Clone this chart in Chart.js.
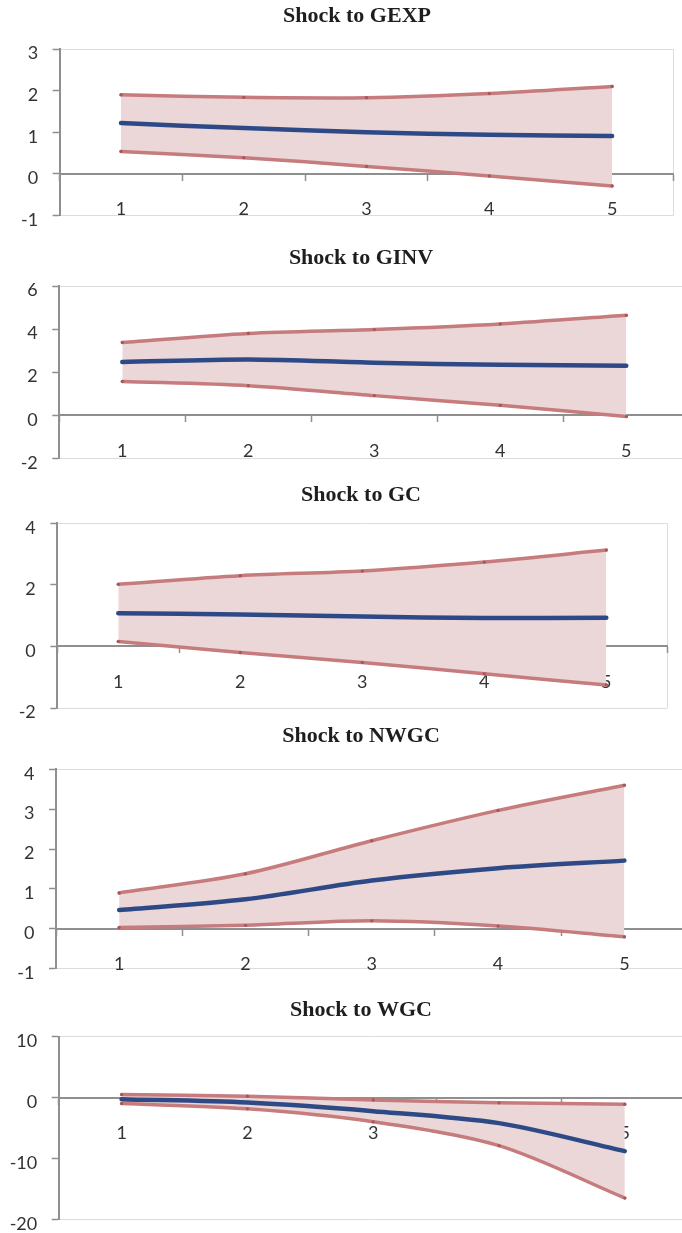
<!DOCTYPE html>
<html>
<head>
<meta charset="utf-8">
<script src="https://cdn.jsdelivr.net/npm/chart.js@4.4.0/dist/chart.umd.min.js"></script>
<style>
  html, body { margin: 0; padding: 0; background: #ffffff; }
  body { width: 682px; height: 1233px; position: relative; overflow: hidden; }
  canvas { position: absolute; left: 0; }
</style>
</head>
<body>
<script>
// Horizon (periods after the shock)
const categories = ['1', '2', '3', '4', '5'];

// Shock to GEXP
const gexpUpper = [1.90, 1.84, 1.83, 1.93, 2.10];
const gexpMid   = [1.22, 1.10, 1.00, 0.94, 0.91];
const gexpLower = [0.54, 0.39, 0.18, -0.05, -0.29];
const gexpTicks = [-1, 0, 1, 2, 3];

// Shock to GINV
const ginvUpper = [3.38, 3.80, 3.98, 4.24, 4.64];
const ginvMid   = [2.47, 2.59, 2.44, 2.34, 2.30];
const ginvLower = [1.57, 1.37, 0.91, 0.46, -0.06];
const ginvTicks = [-2, 0, 2, 4, 6];

// Shock to GC
const gcUpper = [2.02, 2.30, 2.45, 2.74, 3.13];
const gcMid   = [1.08, 1.04, 0.97, 0.92, 0.93];
const gcLower = [0.16, -0.20, -0.52, -0.89, -1.25];
const gcTicks = [-2, 0, 2, 4];

// Shock to NWGC
const nwgcUpper = [0.90, 1.38, 2.21, 2.97, 3.60];
const nwgcMid   = [0.47, 0.74, 1.21, 1.52, 1.71];
const nwgcLower = [0.03, 0.09, 0.20, 0.07, -0.20];
const nwgcTicks = [-1, 0, 1, 2, 3, 4];

// Shock to WGC
const wgcUpper = [0.50, 0.23, -0.38, -0.87, -1.08];
const wgcMid   = [-0.27, -0.82, -2.23, -4.20, -8.80];
const wgcLower = [-0.98, -1.85, -3.98, -7.90, -16.50];
const wgcTicks = [-20, -10, 0, 10];

// Page placement of each panel (title centre, plot-area edges)
const panels = [
  { title: 'Shock to GEXP', upper: gexpUpper, mid: gexpMid, lower: gexpLower, ticks: gexpTicks,
    frame: { titleX: 357, titleY: 16,    left: 59.6, right: 673.5, top: 49,     bottom: 215.5 } },
  { title: 'Shock to GINV', upper: ginvUpper, mid: ginvMid, lower: ginvLower, ticks: ginvTicks,
    frame: { titleX: 361, titleY: 258,   left: 59.3, right: 689.3, top: 286,    bottom: 458.3 } },
  { title: 'Shock to GC',   upper: gcUpper,   mid: gcMid,   lower: gcLower,   ticks: gcTicks,
    frame: { titleX: 361, titleY: 495.5, left: 57.3, right: 667.3, top: 523.3,  bottom: 708 } },
  { title: 'Shock to NWGC', upper: nwgcUpper, mid: nwgcMid, lower: nwgcLower, ticks: nwgcTicks,
    frame: { titleX: 361, titleY: 736.5, left: 56,   right: 687.5, top: 769.3,  bottom: 968.7 } },
  { title: 'Shock to WGC',  upper: wgcUpper,  mid: wgcMid,  lower: wgcLower,  ticks: wgcTicks,
    frame: { titleX: 361, titleY: 1010,  left: 58.7, right: 687.7, top: 1036.7, bottom: 1219.3 } }
];

const AXIS = '#8f8f8f';
const FRAME = '#dcdcdc';
const BAND_LINE = '#c67b7c';
const BAND_DOT = '#a85557';
const BAND_FILL = '#ebd6d8';
const MID_LINE = '#2e4a86';
const TEXT = '#333333';
const TICK_FONT = { family: 'Lato, "Open Sans", sans-serif', size: 18 };
const TITLE_FONT = { family: '"Liberation Serif", "Times New Roman", serif', size: 22, weight: 'bold', lineHeight: 1.2 };

panels.forEach(p => {
  const f = p.frame;
  const titleBox = TITLE_FONT.size * TITLE_FONT.lineHeight;
  const top = Math.round(f.titleY - titleBox / 2 - 2);
  const titlePadTop = f.titleY - titleBox / 2 - top;
  const titlePadBottom = f.top - top - titlePadTop - titleBox;
  // the title is centred on the full canvas width; an empty right-hand box
  // widens the canvas so that centre falls where it should
  const width = Math.round(2 * f.titleX);
  const spacerWidth = width - f.right;
  const height = Math.round(f.bottom - top + 32);
  const padBottom = height - (f.bottom - top);
  const yAxisWidth = f.left;

  const minV = p.ticks[0];
  const maxV = p.ticks[p.ticks.length - 1];
  const step = p.ticks[1] - p.ticks[0];

  const canvas = document.createElement('canvas');
  canvas.width = width;
  canvas.height = height;
  canvas.style.width = width + 'px';
  canvas.style.height = height + 'px';
  canvas.style.top = top + 'px';
  document.body.appendChild(canvas);

  const bandStyle = {
    borderColor: BAND_LINE,
    borderWidth: 3.5,
    borderCapStyle: 'round',
    borderJoinStyle: 'round',
    pointRadius: 1.6,
    pointBorderWidth: 0,
    pointBackgroundColor: BAND_DOT,
    tension: 0.3
  };

  new Chart(canvas, {
    type: 'line',
    data: {
      labels: categories,
      datasets: [
        Object.assign({ label: 'upper', data: p.upper, fill: '+1', backgroundColor: BAND_FILL, order: 2 }, bandStyle),
        Object.assign({ label: 'lower', data: p.lower, fill: false, order: 1 }, bandStyle),
        {
          label: 'response', data: p.mid, fill: false, order: 0,
          borderColor: MID_LINE, borderWidth: 4.5,
          borderCapStyle: 'round', borderJoinStyle: 'round',
          pointRadius: 0, tension: 0.3
        }
      ]
    },
    options: {
      responsive: false,
      animation: false,
      devicePixelRatio: 1,
      events: [],
      layout: { padding: { left: 0, right: 0, top: 0, bottom: padBottom } },
      plugins: {
        legend: { display: false },
        tooltip: { enabled: false },
        title: {
          display: true,
          text: p.title,
          color: '#1e1e1e',
          font: TITLE_FONT,
          padding: { top: titlePadTop, bottom: titlePadBottom }
        }
      },
      scales: {
        x: {
          type: 'category',
          offset: true,
          position: { y: 0 },
          grid: {
            offset: true,
            drawOnChartArea: true,
            color: c => (c.type === 'tick' ? 'rgba(0,0,0,0)' : FRAME),
            lineWidth: 1,
            drawTicks: true,
            tickLength: 6,
            tickColor: AXIS,
            tickWidth: 1.5
          },
          border: { display: true, color: AXIS, width: 2 },
          ticks: { color: TEXT, font: TICK_FONT, padding: 19, maxRotation: 0, autoSkip: false }
        },
        y: {
          min: minV,
          max: maxV,
          afterFit: s => { s.width = yAxisWidth; },
          grid: {
            color: c => (c.tick && (c.tick.value === minV || c.tick.value === maxV) ? FRAME : 'rgba(0,0,0,0)'),
            lineWidth: 1,
            tickLength: 7,
            tickColor: AXIS,
            tickWidth: 1.5
          },
          border: { display: true, color: AXIS, width: 2 },
          ticks: { stepSize: step, color: TEXT, font: TICK_FONT, padding: 14.5, labelOffset: 4.5 }
        },
        spacer: {
          type: 'linear',
          position: 'right',
          display: true,
          afterFit: s => { s.width = spacerWidth; },
          grid: { display: false },
          border: { display: false },
          ticks: { display: false }
        }
      }
    }
  });
});
</script>
</body>
</html>
